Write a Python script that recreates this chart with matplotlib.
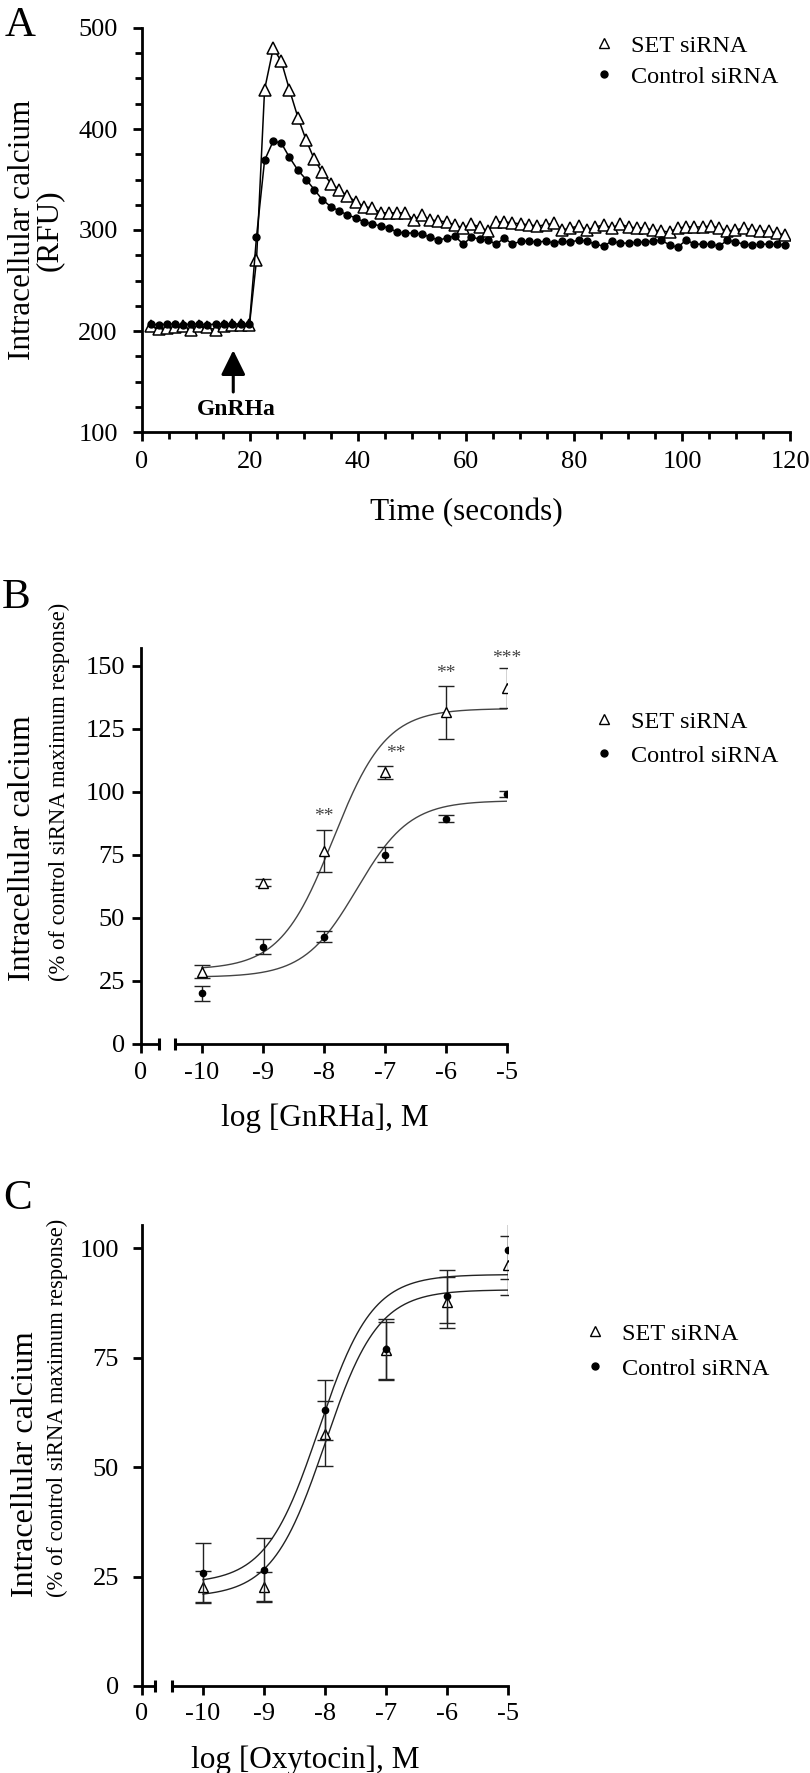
import matplotlib
matplotlib.use("Agg")
import matplotlib.pyplot as plt
from matplotlib.lines import Line2D
import numpy as np

plt.rcParams['font.family'] = ['Liberation Serif', 'DejaVu Serif']

W, H = 810, 1773

# ---- Panel A: calcium trace (RFU) ----
time_s = [1.6, 3.1, 4.6, 6.1, 7.6, 9.0, 10.6, 12.0, 13.7, 15.2, 16.7, 18.3, 19.9,
          21.2, 22.7, 24.3, 25.8, 27.3, 28.9, 30.4, 31.9, 33.4, 35.0, 36.5, 38.0, 39.6,
          41.1, 42.6, 44.2, 45.7, 47.2, 48.7, 50.3, 51.8, 53.3, 54.9, 56.4, 57.9, 59.5,
          61.0, 62.5, 64.0, 65.6, 67.1, 68.6, 70.2, 71.7, 73.2, 74.8, 76.3, 77.8, 79.3,
          80.9, 82.4, 83.9, 85.5, 87.0, 88.5, 90.1, 91.6, 93.1, 94.6, 96.2, 97.7, 99.2,
          100.8, 102.3, 103.8, 105.4, 106.9, 108.4, 109.9, 111.5, 113.0, 114.5, 116.1,
          117.6, 119.1]
set_rfu = [205, 202, 203, 204, 205, 201, 205, 204, 201, 205, 206, 206, 206,
           270, 439, 480, 467, 439, 411, 389, 370, 357, 346, 340, 334, 328, 323, 322,
           317, 317, 317, 317, 310, 315, 310, 309, 308, 305, 302, 306, 303, 299, 308,
           308, 307, 306, 305, 304, 305, 307, 300, 302, 304, 300, 303, 305, 302, 306,
           303, 302, 302, 300, 299, 298, 302, 303, 303, 303, 304, 302, 299, 300, 302,
           300, 299, 299, 297, 295]
ctrl_rfu = [207, 206, 207, 207, 206, 207, 207, 206, 207, 207, 207, 207, 207,
            293, 369, 388, 386, 372, 359, 350, 340, 330, 323, 319, 315, 312, 308, 306,
            304, 302, 298, 297, 297, 296, 293, 290, 292, 294, 286, 293, 291, 290, 286,
            292, 286, 289, 289, 288, 289, 287, 289, 288, 290, 289, 286, 284, 289, 287,
            287, 288, 288, 289, 290, 285, 283, 290, 286, 286, 286, 284, 290, 288, 286,
            285, 286, 286, 286, 285]

# ---- Panel B: GnRHa dose response ----
log_dose = [-10, -9, -8, -7, -6, -5]
b_set = [28.7, 64.0, 76.6, 107.7, 131.5, 141.1]
b_set_err = [2.5, 1.5, 8.3, 2.7, 10.6, 8.0]
b_ctrl = [20.1, 38.6, 42.6, 75.0, 89.4, 99.3]
b_ctrl_err = [3.0, 3.0, 2.1, 3.0, 1.5, 1.2]
b_set_fit = (29.5, 133.0, -7.85, 1.0)   # bottom, top, logEC50, hill
b_ctrl_fit = (26.5, 96.5, -7.46, 1.0)
b_star_x = [-8, -6.82, -6, -5]
b_star_y = [90, 115, 147, 153]
b_star_txt = ['**', '**', '**', '***']

# ---- Panel C: oxytocin dose response ----
c_set = [22.6, 22.6, 57.6, 76.7, 87.6, 96.1]
c_set_err = [3.6, 3.4, 7.4, 6.5, 5.8, 6.7]
c_ctrl = [25.9, 26.6, 63.0, 76.9, 89.0, 99.5]
c_ctrl_err = [6.7, 7.2, 6.9, 6.9, 6.0, 6.5]
c_set_fit = (20.3, 90.5, -8.0, 1.0)
c_ctrl_fit = (23.4, 94.0, -8.1, 1.0)

dose_ticks = [-11, -10, -9, -8, -7, -6, -5]
dose_labels = ['0', '-10', '-9', '-8', '-7', '-6', '-5']


def fx(px):
    return px / W


def fy(py):
    return 1 - py / H


def logistic(x, bottom, top, logec50, hill):
    return bottom + (top - bottom) / (1 + 10 ** ((logec50 - x) * hill))


fig = plt.figure(figsize=(W / 100, H / 100), dpi=100)

TICK_FS = 19


def legend_at(ax, marker_x, row_y, spacing):
    h_set = Line2D([], [], marker='^', ls='none', mfc='white', mec='black', mew=1.0, ms=6.5)
    h_ctrl = Line2D([], [], marker='o', ls='none', color='black', ms=5)
    fs = 17.5
    em = fs * 100 / 72
    ax.legend([h_set, h_ctrl], ['SET siRNA', 'Control siRNA'], loc='upper left',
              bbox_to_anchor=(fx(marker_x - 0.5 * em), fy(row_y - 0.55 * em)),
              bbox_transform=fig.transFigure, frameon=False, fontsize=fs,
              handlelength=1.0, handletextpad=0.62, borderpad=0, borderaxespad=0,
              labelspacing=spacing)


# ================= Panel A =================
axA = fig.add_axes([fx(142), fy(432), (790 - 142) / W, (432 - 28) / H])
axA.plot(time_s, set_rfu, color='black', lw=1.1, marker='^', ms=8,
         mfc='white', mec='black', mew=1.1, zorder=3)
axA.plot(time_s, ctrl_rfu, color='black', lw=1.1, marker='o', ms=5, zorder=4)
axA.set_xlim(0, 120)
axA.set_ylim(100, 500)
axA.set_xticks(np.arange(0, 121, 20))
axA.set_xticks(np.arange(0, 121, 5), minor=True)
axA.set_yticks(np.arange(100, 501, 100))
axA.set_yticks(np.arange(100, 501, 25), minor=True)
for s in ['top', 'right']:
    axA.spines[s].set_visible(False)
for s in ['left', 'bottom']:
    axA.spines[s].set_linewidth(2)
axA.tick_params(which='major', direction='out', length=6.5, width=2, labelsize=TICK_FS)
axA.tick_params(which='minor', direction='out', length=5, width=2)
axA.tick_params(axis='x', pad=7)
axA.tick_params(axis='y', pad=11)
axA.annotate('', xy=(16.9, 181), xytext=(16.9, 139.6),
             arrowprops=dict(arrowstyle='-|>,head_length=0.75,head_width=0.37',
                             mutation_scale=20, lw=2.2, color='black',
                             shrinkA=0, shrinkB=0))
axA.text(17.4, 121.8, 'GnRHa', fontsize=17, fontweight='bold', ha='center', va='center')
legend_at(axA, 604, 48, 0.37)

fig.text(fx(20), fy(26), 'A', fontsize=31, ha='center', va='center')
fig.text(fx(23), fy(230), 'Intracellular calcium', fontsize=22.5, rotation=90,
         ha='center', va='center')
fig.text(fx(49), fy(230), '(RFU)', fontsize=22.5, rotation=90, ha='center', va='center')
fig.text(fx(466), fy(513), 'Time (seconds)', fontsize=22.5, ha='center', va='center')


# ================= Panels B and C =================
def dose_panel(rect, set_y, set_e, ctrl_y, ctrl_e, set_fit, ctrl_fit, ymax, yticks,
               seg_left_end, seg_right_start, curve_color, ypad, xpad):
    ax = fig.add_axes(rect)
    xs = np.linspace(-10, -5, 300)
    ax.plot(xs, logistic(xs, *set_fit), color=curve_color, lw=1.0, zorder=2)
    ax.plot(xs, logistic(xs, *ctrl_fit), color=curve_color, lw=1.0, zorder=2)
    ax.errorbar(log_dose, set_y, yerr=set_e, fmt='^', ms=6.5, mfc='white', mec='black',
                mew=1.0, ecolor='#222222', elinewidth=1.0, capsize=6, capthick=1.0, zorder=3)
    ax.errorbar(log_dose, ctrl_y, yerr=ctrl_e, fmt='o', ms=4.5, color='black',
                ecolor='#222222', elinewidth=1.0, capsize=6, capthick=1.0, zorder=4)
    ax.set_xlim(-11, -5)
    ax.set_ylim(0, ymax)
    ax.set_xticks(dose_ticks)
    ax.set_xticklabels(dose_labels)
    ax.set_yticks(yticks)
    for s in ['top', 'right', 'bottom']:
        ax.spines[s].set_visible(False)
    ax.spines['left'].set_linewidth(2)
    ax.tick_params(direction='out', length=6.5, width=2, labelsize=TICK_FS)
    ax.tick_params(axis='y', pad=ypad)
    ax.tick_params(axis='x', pad=xpad)
    # broken x axis
    ax.plot([-11, seg_left_end], [0, 0], color='black', lw=2, clip_on=False, zorder=5)
    ax.plot([seg_right_start, -5], [0, 0], color='black', lw=2, clip_on=False, zorder=5)
    ax.plot([seg_left_end, seg_right_start], [0, 0], ls='none', marker='|', ms=9, mew=2.2,
            color='black', clip_on=False, zorder=5)
    return ax


axB = dose_panel([fx(141), fy(1044), (507 - 141) / W, (1044 - 648) / H],
                 b_set, b_set_err, b_ctrl, b_ctrl_err, b_set_fit, b_ctrl_fit,
                 157, np.arange(0, 151, 25), -10.70, -10.44, '#444444', 5, 6.5)
for x, y, t in zip(b_star_x, b_star_y, b_star_txt):
    axB.text(x, y, t, fontsize=14, color='#444444', ha='center', va='center')
legend_at(axB, 604, 724, 0.5)
fig.text(fx(16), fy(598), 'B', fontsize=31, ha='center', va='center')
fig.text(fx(23), fy(981), 'Intracellular calcium', fontsize=23, rotation=90,
         ha='center', va='bottom')
fig.text(fx(59), fy(981), '(% of control siRNA maximum response)', fontsize=16.3,
         rotation=90, ha='center', va='bottom')
fig.text(fx(325), fy(1118), 'log [GnRHa], M', fontsize=22.5, ha='center', va='center')

axC = dose_panel([fx(142), fy(1686), (508 - 142) / W, (1686 - 1225) / H],
                 c_set, c_set_err, c_ctrl, c_ctrl_err, c_set_fit, c_ctrl_fit,
                 105.3, np.arange(0, 101, 25), -10.79, -10.51, '#222222', 10, 5.5)
legend_at(axC, 595, 1336, 0.54)
fig.text(fx(18), fy(1199), 'C', fontsize=31, ha='center', va='center')
fig.text(fx(26), fy(1597), 'Intracellular calcium', fontsize=23, rotation=90,
         ha='center', va='bottom')
fig.text(fx(57), fy(1597), '(% of control siRNA maximum response)', fontsize=16.3,
         rotation=90, ha='center', va='bottom')
fig.text(fx(305), fy(1760), 'log [Oxytocin], M', fontsize=22.5, ha='center', va='center')

fig.savefig('out.png', dpi=100, facecolor='white')
